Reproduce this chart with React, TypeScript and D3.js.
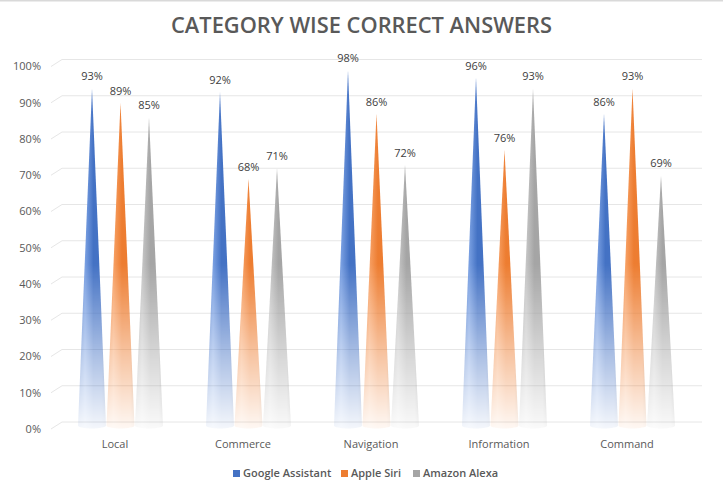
import React, { useEffect } from 'react';
import * as d3 from 'd3';

const categories = ['Local', 'Commerce', 'Navigation', 'Information', 'Command'];
const seriesNames = ['Google Assistant', 'Apple Siri', 'Amazon Alexa'];
const googleValues = [0.93, 0.92, 0.98, 0.96, 0.86];
const siriValues = [0.89, 0.68, 0.86, 0.76, 0.93];
const alexaValues = [0.85, 0.71, 0.72, 0.93, 0.69];
const yTicks = [0, 0.1, 0.2, 0.3, 0.4, 0.5, 0.6, 0.7, 0.8, 0.9, 1];

const W = 723;
const H = 492;

// oblique 3D offset from front plane to back wall
const DX = 11;
const DY = -7;

const palette = [
  { light: '#7aa0e2', base: '#4472c4', dark: '#2a539c' },
  { light: '#f7a064', base: '#ed7d31', dark: '#b9560f' },
  { light: '#c6c6c6', base: '#a5a5a5', dark: '#6f6f6f' },
];

const App: React.FC = () => {
  useEffect(() => {
    document.body.style.margin = '0';
  }, []);

  const values = [googleValues, siriValues, alexaValues];

  const x = d3.scaleBand<string>().domain(categories).range([51, 691]);
  const yFront = d3.scaleLinear().domain([0, 1]).range([429, 66.5]);
  const yCone = (v: number) => yFront(v) + DY / 2;
  const xSeries = d3.scaleBand<string>().domain(seriesNames).range([-42.75, 42.75]);
  const pct = d3.format('.0%');
  const coneW = 28;
  const rx = coneW / 2;
  const ry = 3;

  const conePath = (cx: number, tipY: number, baseY: number) => {
    const p = d3.path();
    p.moveTo(cx, tipY);
    p.lineTo(cx + rx, baseY);
    // elliptical base (front half)
    const steps = 16;
    for (let i = 1; i <= steps; i++) {
      const a = (Math.PI * i) / steps;
      p.lineTo(cx + rx * Math.cos(a), baseY + ry * Math.sin(a));
    }
    p.closePath();
    return p.toString();
  };

  const fontUI = "'Segoe UI', 'Open Sans', 'Noto Sans', sans-serif";

  return (
    <svg width={W} height={H} viewBox={`0 0 ${W} ${H}`} style={{ display: 'block', background: '#fff' }}>
      <defs>
        {palette.map((c, i) => (
          <linearGradient key={`h${i}`} id={`hg${i}`} x1="0" y1="0" x2="1" y2="0">
            <stop offset="0" stopColor={c.base} />
            <stop offset="0.25" stopColor={c.light} />
            <stop offset="0.55" stopColor={c.base} />
            <stop offset="0.85" stopColor={c.base} />
            <stop offset="1" stopColor={c.dark} />
          </linearGradient>
        ))}
        <linearGradient id="fade" gradientUnits="userSpaceOnUse" x1="0" y1={yCone(1)} x2="0" y2={yCone(0) + ry}>
          <stop offset="0" stopColor="#fff" />
          <stop offset="0.55" stopColor="#fff" />
          <stop offset="0.8" stopColor="#fff" stopOpacity={0.45} />
          <stop offset="1" stopColor="#fff" stopOpacity={0.06} />
        </linearGradient>
        <mask id="coneMask" maskUnits="userSpaceOnUse" x={0} y={0} width={W} height={H}>
          <rect x={0} y={0} width={W} height={H} fill="url(#fade)" />
        </mask>
      </defs>

      <line x1={0} x2={W} y1={0.5} y2={0.5} stroke="#d9d9d9" strokeWidth={2} />

      <text
        x={W / 2}
        y={33}
        textAnchor="middle"
        fontFamily={fontUI}
        fontSize={21}
        fontWeight={600}
        fill="#595959"
        textLength={381}
        lengthAdjust="spacingAndGlyphs"
      >
        CATEGORY WISE CORRECT ANSWERS
      </text>

      {/* gridlines on back wall + side stubs */}
      {yTicks.map((t) => (
        <g key={t} stroke="#e6e6e6" strokeWidth={1}>
          <line x1={51} y1={yFront(t)} x2={51 + DX} y2={yFront(t) + DY} />
          <line x1={51 + DX} y1={yFront(t) + DY} x2={702} y2={yFront(t) + DY} />
        </g>
      ))}

      {yTicks.map((t) => (
        <text
          key={`l${t}`}
          x={41}
          y={yFront(t)}
          dy="0.35em"
          textAnchor="end"
          fontFamily={fontUI}
          fontSize={11}
          fill="#595959"
        >
          {pct(t)}
        </text>
      ))}

      <g mask="url(#coneMask)">
        {categories.map((cat, ci) =>
          seriesNames.map((s, si) => {
            const cx = (x(cat) as number) + x.bandwidth() / 2 + DX / 2 + (xSeries(s) as number) + xSeries.bandwidth() / 2;
            const v = values[si][ci];
            return <path key={`${cat}-${s}`} d={conePath(cx, yCone(v), yCone(0))} fill={`url(#hg${si})`} />;
          })
        )}
      </g>

      {categories.map((cat, ci) => (
        <g key={cat}>
          {seriesNames.map((s, si) => {
            const cx = (x(cat) as number) + x.bandwidth() / 2 + DX / 2 + (xSeries(s) as number) + xSeries.bandwidth() / 2;
            const v = values[si][ci];
            return (
              <text
                key={s}
                x={cx}
                y={yCone(v) - 8}
                textAnchor="middle"
                fontFamily={fontUI}
                fontSize={11}
                fill="#404040"
              >
                {pct(v)}
              </text>
            );
          })}
          <text
            x={(x(cat) as number) + x.bandwidth() / 2}
            y={444}
            dy="0.35em"
            textAnchor="middle"
            fontFamily={fontUI}
            fontSize={11}
            fill="#595959"
          >
            {cat}
          </text>
        </g>
      ))}

      {/* legend */}
      {seriesNames.map((s, i) => {
        const lx = [233, 341, 413][i];
        return (
          <g key={s} transform={`translate(${lx},473)`}>
            <rect x={0} y={-3} width={7} height={7} fill={palette[i].base} />
            <text x={10} y={0} dy="0.35em" fontFamily={fontUI} fontSize={11} fontWeight={600} fill="#595959">
              {s}
            </text>
          </g>
        );
      })}
    </svg>
  );
};

export default App;
